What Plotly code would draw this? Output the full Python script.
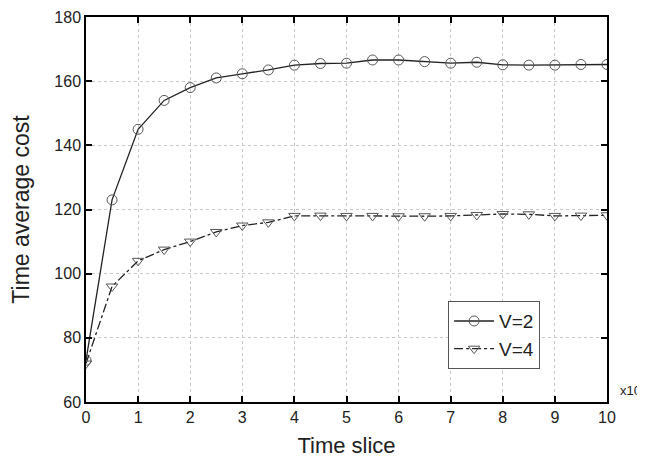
import plotly.graph_objects as go

x_vals = [0, 0.5, 1, 1.5, 2, 2.5, 3, 3.5, 4, 4.5, 5, 5.5, 6, 6.5, 7, 7.5, 8, 8.5, 9, 9.5, 10]
v2 = [73, 123, 145, 154, 158, 161, 162.3, 163.5, 165, 165.5, 165.6, 166.6, 166.6, 166.1,
      165.6, 165.9, 165.1, 165.0, 165.0, 165.2, 165.2]
v4 = [72, 96, 104, 107.5, 110, 113, 115, 116, 118, 118.1, 118.0, 118.0, 117.9, 117.9,
      118.0, 118.3, 118.6, 118.5, 118.0, 118.1, 118.2]

# page has an 8px body margin, so the figure is a bit smaller than the window
fig = go.Figure(layout=go.Layout(width=637, height=451))
fig.add_trace(go.Scatter(
    x=x_vals, y=v2, name='V=2', mode='lines+markers',
    line=dict(color='#222222', width=1.3),
    marker=dict(symbol='circle-open', size=10, color='#555555', line=dict(width=1))
))
fig.add_trace(go.Scatter(
    x=x_vals, y=v4, name='V=4', mode='lines+markers',
    line=dict(color='#222222', width=1.3, dash='dashdot'),
    marker=dict(symbol='triangle-down-open', size=10, color='#555555', line=dict(width=1))
))

axis_common = dict(
    showline=True, linecolor='black', linewidth=1.5, mirror='ticks',
    ticks='inside', ticklen=6, tickcolor='black', tickwidth=1.5,
    showgrid=True, gridcolor='#c8c8c8', griddash='dot', gridwidth=1,
    zeroline=False, tickfont=dict(size=16, color='#222222'), automargin=False,
)
fig.update_xaxes(range=[0, 10], dtick=1,
                 title=dict(text='Time slice', font=dict(size=22, color='#222222'), standoff=13),
                 **axis_common)
fig.update_yaxes(range=[60, 180], dtick=20,
                 title=dict(text='Time average cost', font=dict(size=23, color='#222222'), standoff=18),
                 **axis_common)

fig.add_annotation(text='x10', xref='paper', yref='paper', x=1.021, y=0.031,
                   xanchor='left', yanchor='middle', showarrow=False,
                   font=dict(size=13, color='#222222'))

fig.update_layout(
    font=dict(family='Liberation Sans, Arial, sans-serif', color='#222222'),
    plot_bgcolor='white', paper_bgcolor='white',
    margin=dict(l=78, r=38, t=9, b=57),
    showlegend=True,
    legend=dict(x=0.695, y=0.262, xanchor='left', yanchor='top',
                bordercolor='#555555', borderwidth=1, bgcolor='white',
                font=dict(size=19), itemwidth=40, tracegroupgap=0),
)
fig.write_html("out.html")
